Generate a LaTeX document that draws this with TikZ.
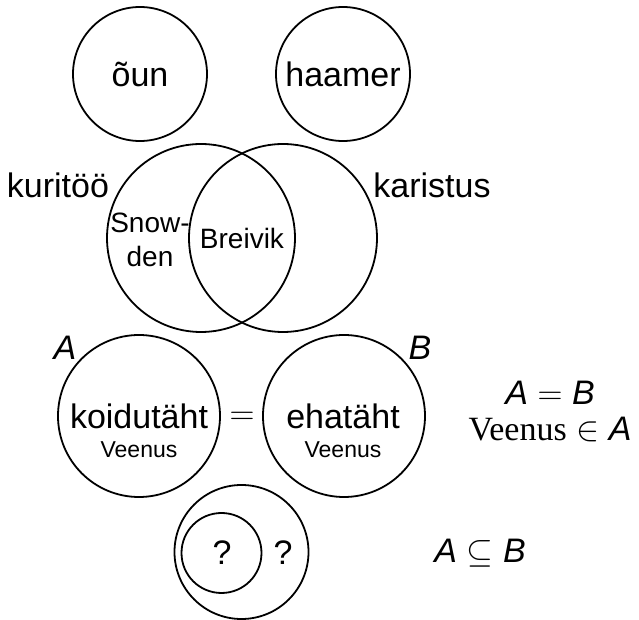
\documentclass[tikz,border=0pt]{standalone}
\usepackage{fontspec}
\setmainfont{Liberation Sans}
\newfontfamily\serifrm{Liberation Serif}
\begin{document}
\begin{tikzpicture}[x=0.5pt,y=-0.5pt,
  ring/.style={draw,circle,line width=0.9pt,inner sep=0pt},
  big/.style={font=\fontsize{17}{20}\selectfont},
  mid/.style={font=\fontsize{14}{17}\selectfont},
  small/.style={font=\fontsize{11.5}{13}\selectfont}]
\useasboundingbox (0,0) rectangle (639,620);
% two separate sets
\node[ring,big,minimum size=67pt] (apple) at (140,74) {õun};
\node[ring,big,minimum size=67pt] (hammer) at (343,74) {haamer};
% intersecting sets
\node[ring,minimum size=94pt] (crime) at (201,238) {};
\node[ring,minimum size=94pt] (punish) at (283,238) {};
\node[big] (crimelbl) at (58,185) {kuritöö};
\node[big] (punishlbl) at (432,185) {karistus};
\node[mid,align=center] (snowden) at (150,240) {Snow-\\den};
\node[mid] (breivik) at (242,238) {Breivik};
% equal sets
\node[ring,minimum size=81pt] (setA) at (139,416) {};
\node[ring,minimum size=81pt] (setB) at (344,416) {};
\node[big,anchor=base] (morning) at (139,429) {koidutäht};
\node[small,anchor=base] (venusA) at (139,458) {Veenus};
\node[big,anchor=base] (evening) at (343,429) {ehatäht};
\node[small,anchor=base] (venusB) at (343,458) {Veenus};
\node[big] (eq) at (242,418) {$=$};
\node[big] (lblA) at (65,348) {\textit{A}};
\node[big] (lblB) at (420,348) {\textit{B}};
\node[font=\fontsize{17}{18}\selectfont,align=center,anchor=base] (eqtext) at (550,441)
  {$\textit{A}=\textit{B}$\\{\serifrm Veenus} $\in\textit{A}$};
% subset
\node[ring,minimum size=67pt] (outer) at (241.5,552) {};
\node[ring,minimum size=40pt] (inner) at (221.5,553) {};
\node[big] (qin) at (222,553) {?};
\node[big] (qout) at (283,553) {?};
\node[big] (subtext) at (480,553) {$\textit{A}\subseteq\textit{B}$};
\end{tikzpicture}
\end{document}
